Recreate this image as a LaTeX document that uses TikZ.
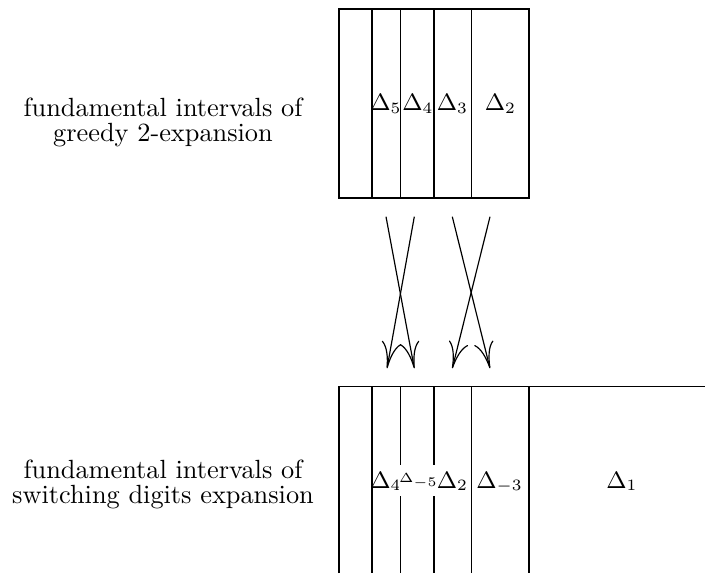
\documentclass[tikz,border=0pt]{standalone}
\usetikzlibrary{arrows.meta}
\begin{document}
\begin{tikzpicture}[x=0.38pt,y=-0.38pt,
  ln/.style={line width=0.4pt},
  dlab/.style={font=\small, anchor=base, inner sep=0pt},
  txt/.style={font=\fontsize{10}{9.5}\selectfont, align=center, anchor=base, inner sep=0pt},
  arr/.style={line width=0.45pt, -{To[length=10pt,width=7.5pt]}}]
\useasboundingbox (0,0) rectangle (705,573);
% top intervals
\draw[ln] (339,9) rectangle (529,198);
\foreach \x in {372,400.7,434,471.7} \draw[ln] (\x,9) -- (\x,198);
% bottom intervals
\draw[ln] (339,573) -- (339,386.7) -- (705,386.7);
\foreach \x in {372,400.7,434,471.7,529} \draw[ln] (\x,386.7) -- (\x,573);
% texts (anchor at the baseline of the last line)
\node[txt] (tg) at (163,141.7) {fundamental intervals of\\greedy 2-expansion};
\node[txt] (ts) at (163,503) {fundamental intervals of\\switching digits expansion};
% top labels
\node[dlab] (g5) at (386,110.7) {$\Delta_5$};
\node[dlab] (g4) at (418,110.7) {$\Delta_4$};
\node[dlab] (g3) at (452.5,110.7) {$\Delta_3$};
\node[dlab] (g2) at (500.5,110.7) {$\Delta_2$};
% bottom labels
\node[dlab] (s4) at (386,488) {$\Delta_4$};
\node[font=\fontsize{5}{6}\selectfont, fill=white, inner xsep=0pt, inner ysep=3pt, anchor=base] (s5) at (418.5,482) {$\Delta_{-5}$};
\node[dlab] (s2) at (452.5,488) {$\Delta_2$};
\node[dlab] (s3) at (499.5,488) {$\Delta_{-3}$};
\node[dlab] (s1) at (622,488) {$\Delta_1$};
% arrows
\coordinate (a5) at (386,216.7);
\coordinate (a4) at (414.3,216.7);
\coordinate (a3) at (452.3,216.7);
\coordinate (a2) at (490,216.7);
\coordinate (b4) at (387,368.3);
\coordinate (b5) at (414.3,368.3);
\coordinate (b2) at (452.3,368.3);
\coordinate (b3) at (490,368.3);
\draw[arr] (a5) -- (b5);
\draw[arr] (a4) -- (b4);
\draw[arr] (a3) -- (b3);
\draw[arr] (a2) -- (b2);
\end{tikzpicture}
\end{document}
